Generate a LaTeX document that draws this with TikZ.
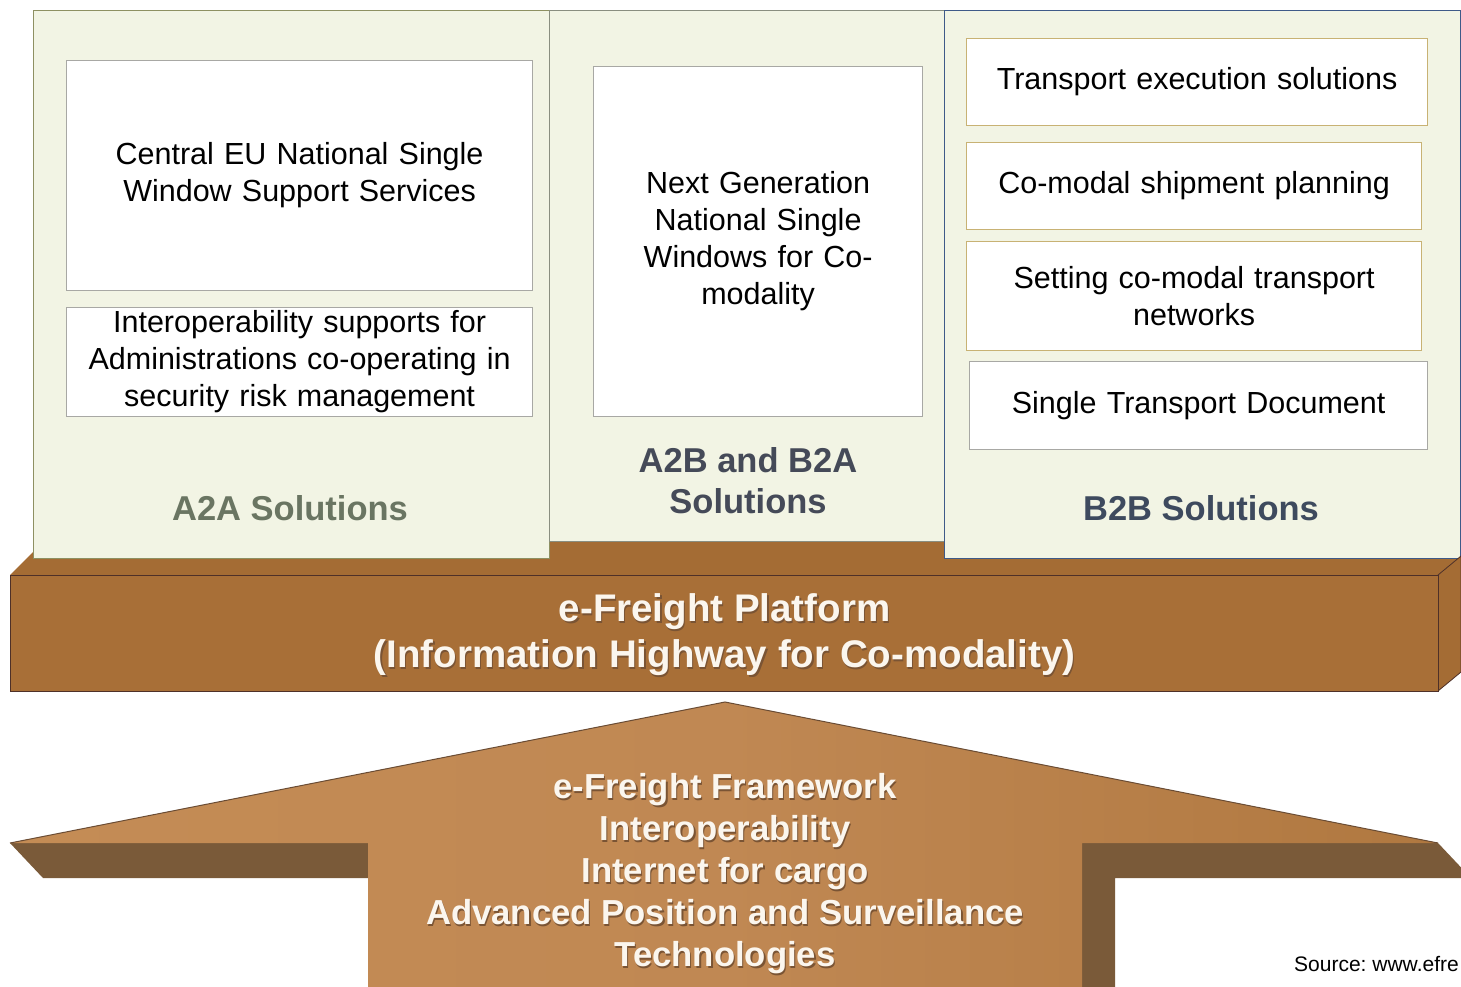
\documentclass[tikz,border=0pt]{standalone}
\usepackage{fontspec}
\setmainfont{Liberation Sans}
\frenchspacing
\definecolor{panelfill}{HTML}{F2F4E4}
\definecolor{leftborder}{HTML}{8E9062}
\definecolor{midborder}{HTML}{8A8E80}
\definecolor{rightborder}{HTML}{3F5A88}
\definecolor{grayborder}{HTML}{A8A8A4}
\definecolor{goldborder}{HTML}{C8B274}
\definecolor{platbrown}{HTML}{A86F37}
\definecolor{topbrown}{HTML}{A46C34}
\definecolor{platline}{HTML}{4E3028}
\definecolor{arrowleft}{HTML}{C48C55}
\definecolor{arrowmid}{HTML}{C08853}
\definecolor{arrowright}{HTML}{B07840}
\definecolor{arrowdark}{HTML}{7A5A39}
\definecolor{arrowline}{HTML}{6A4C34}
\definecolor{labAA}{HTML}{6A7562}
\definecolor{labAB}{HTML}{454A58}
\definecolor{labBB}{HTML}{3E4A5E}
\definecolor{lighttext}{HTML}{FBF6EE}
\definecolor{shadowtext}{HTML}{7A5434}
\tikzset{
  panelbox/.style={draw=#1, fill=panelfill, line width=1.3pt, anchor=north west, inner sep=0pt},
  innerbox/.style={draw=#1, fill=white, line width=1.2pt, anchor=north west, inner sep=0pt, align=center,
     font=\fontsize{30.5}{37}\selectfont, text=black},
  panellabel/.style={font=\fontsize{34.5}{41}\selectfont\bfseries, text=#1, align=center},
  plattextstyle/.style={font=\fontsize{38.5}{46}\selectfont\bfseries, text=#1, align=center},
  arrowtextstyle/.style={font=\fontsize{34.7}{42}\selectfont\bfseries, text=#1, align=center},
}
\begin{document}
\begin{tikzpicture}[x=1pt,y=-1pt]
\useasboundingbox (0,0) rectangle (1461,987);
\fill[white] (0,0) rectangle (1461,987);

% platform top face (behind panels)
\fill[topbrown] (10,575) -- (33,552) -- (33,541) -- (1461,541) -- (1461,556) -- (1438,575) -- cycle;
\draw[platline, line width=0.8pt] (549,541) -- (944,541);

% panels
\node[panelbox=leftborder, minimum width=516pt, minimum height=548pt] (pA) at (33,10) {};
\node[panelbox=midborder, minimum width=395pt, minimum height=531pt] (pM) at (549,10) {};
\node[panelbox=rightborder, minimum width=516pt, minimum height=548pt] (pB) at (944,10) {};

% A2A inner boxes
\node[innerbox=grayborder, minimum width=466pt, minimum height=230pt, text width=440pt] (a1) at (66,60)
  {Central EU National Single\\Window Support Services};
\node[innerbox=grayborder, minimum width=466pt, minimum height=109pt, text width=460pt] (a2) at (66,307)
  {Interoperability supports for\\Administrations co-operating in\\security risk management};
\node[panellabel=labAA] (la) at (290,508) {A2A Solutions};

% middle inner box
\node[innerbox=grayborder, minimum width=329pt, minimum height=350pt, text width=300pt] (m1) at (593,66)
  {Next Generation\\National Single\\Windows for Co-\\modality};
\node[panellabel=labAB] (lm) at (748,481) {A2B and B2A\\Solutions};

% B2B inner boxes
\node[innerbox=goldborder, minimum width=461pt, minimum height=87pt, text width=450pt] (b1) at (966,38)
  {Transport execution solutions};
\node[innerbox=goldborder, minimum width=455pt, minimum height=87pt, text width=450pt] (b2) at (966,142)
  {Co-modal shipment planning};
\node[innerbox=goldborder, minimum width=455pt, minimum height=109pt, text width=450pt] (b3) at (966,241)
  {Setting co-modal transport\\networks};
\node[innerbox=grayborder, minimum width=458pt, minimum height=88pt, text width=450pt] (b4) at (969,361)
  {Single Transport Document};
\node[panellabel=labBB] (lb) at (1201,508) {B2B Solutions};

% platform side and front faces
\filldraw[fill=topbrown, draw=platline, line width=0.8pt] (1438,575) -- (1461,556) -- (1461,672) -- (1438,691) -- cycle;
\node[draw=platline, fill=platbrown, line width=1.2pt, anchor=north west, inner sep=0pt,
      minimum width=1428pt, minimum height=116pt] (plat) at (10,575) {};
\node[plattextstyle=shadowtext] (platshadow) at ([xshift=1.2pt,yshift=-2.7pt]plat.center) {e-Freight Platform\\(Information Highway for Co-modality)};
\node[plattextstyle=lighttext] (plattext) at ([yshift=-1.5pt]plat.center) {e-Freight Platform\\(Information Highway for Co-modality)};

% arrow
\coordinate (apex) at (725,702);
\coordinate (lw) at (10,843);
\coordinate (rw) at (1438,843);
\coordinate (sl) at (368,843);
\coordinate (sr) at (1082,843);
\fill[arrowdark] (lw) -- (sl) -- (368,878) -- (43,878) -- cycle;
\fill[arrowdark] (sr) -- (rw) -- (1471,878) -- (1115,878) -- (1115,987) -- (1082,987) -- cycle;
\shade[left color=arrowleft, right color=arrowright, middle color=arrowmid]
  (368,987) -- (sl) -- (lw) -- (apex) -- (rw) -- (sr) -- (1082,987) -- cycle;
\draw[arrowline, line width=1pt] (lw) -- (apex) -- (rw);
\node[arrowtextstyle=shadowtext] (arrowshadow) at (726.2,875.2) {e-Freight Framework\\Interoperability\\Internet for cargo\\Advanced Position and Surveillance\\Technologies};
\node[arrowtextstyle=lighttext] (arrowtext) at (725,874) {e-Freight Framework\\Interoperability\\Internet for cargo\\Advanced Position and Surveillance\\Technologies};

% source
\node[anchor=west, font=\fontsize{21}{25}\selectfont, text=black, inner sep=0pt] (src) at (1294,964) {Source: www.efre};
\end{tikzpicture}
\end{document}
